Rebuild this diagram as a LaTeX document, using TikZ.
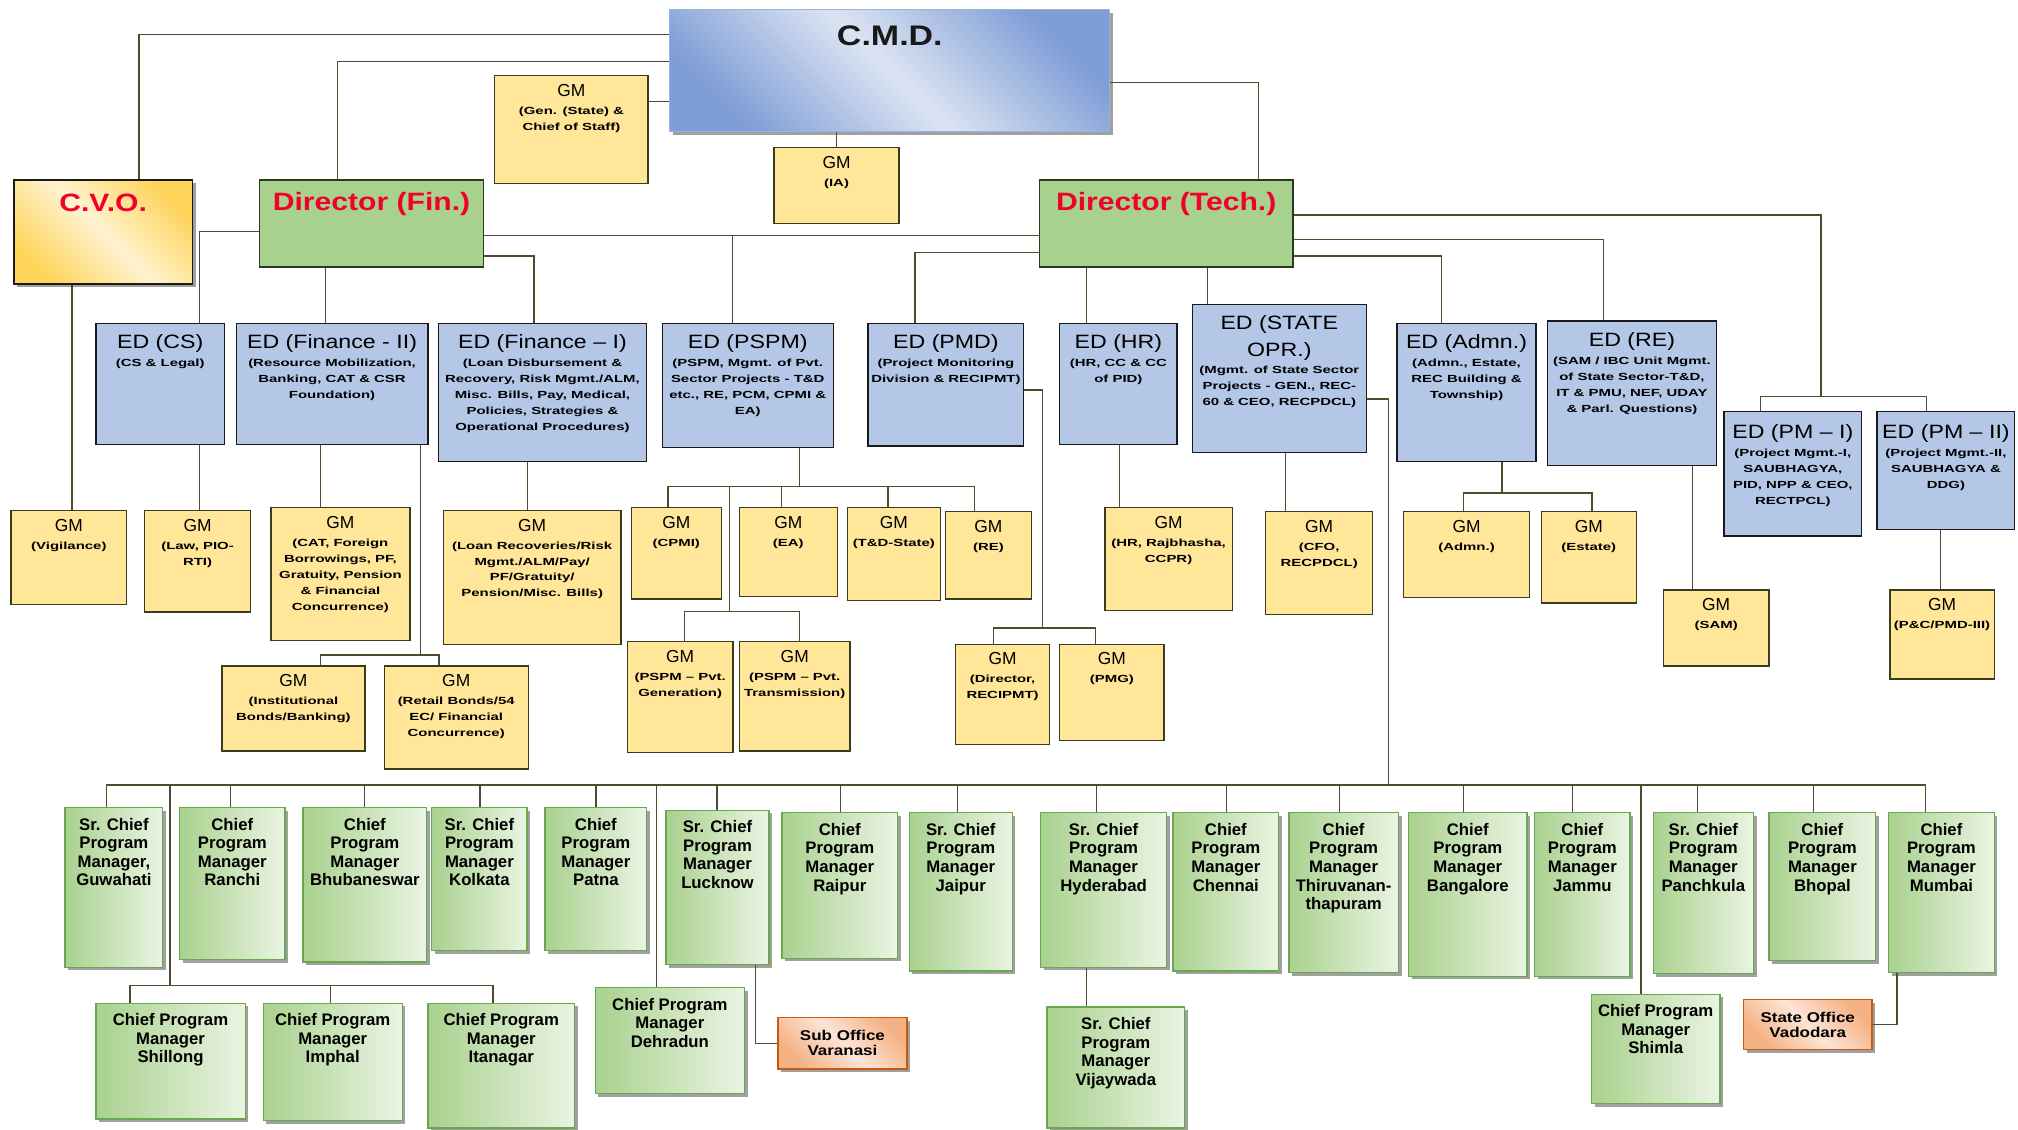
\documentclass[tikz,border=0pt]{standalone}
\usepackage{fontspec}
\setmainfont{Liberation Sans}
\newfontfamily\widefont[FakeStretch=1.2]{Liberation Sans}
\newfontfamily\subfont[FakeStretch=1.45]{Liberation Sans}
\usetikzlibrary{calc,shadows}

\definecolor{lnclr}{HTML}{4D4D2E}
\definecolor{gmfill}{HTML}{FFE699}
\definecolor{gmbd}{HTML}{3B3B1E}
\definecolor{edfill}{HTML}{B4C7E7}
\definecolor{edbd}{HTML}{1A1A1A}
\definecolor{dirfill}{HTML}{A9D18E}
\definecolor{dirbd}{HTML}{2B3A1E}
\definecolor{cmdD}{HTML}{7F9ED6}
\definecolor{cmdL}{HTML}{DCE4F3}
\definecolor{cmdbd}{HTML}{9AB3E0}
\definecolor{cvoD}{HTML}{FFD45A}
\definecolor{cvoL}{HTML}{FFF3D0}
\definecolor{cpmD}{HTML}{A9D18E}
\definecolor{cpmL}{HTML}{EAF4E3}
\definecolor{cpmbd}{HTML}{6AA84F}
\definecolor{subD}{HTML}{F4B183}
\definecolor{subL}{HTML}{FCE4D6}
\definecolor{subbd}{HTML}{C55A11}
\definecolor{titred}{HTML}{F0002C}
\definecolor{shd}{HTML}{A0A0A0}

\newcommand{\edhd}{\widefont\mdseries\fontsize{15}{12.4}\selectfont}
\newcommand{\gmhd}{\rmfamily\mdseries\fontsize{13.5}{12.4}\selectfont}

\tikzset{conn/.style={draw=lnclr, line width=1pt},
  obox/.style={anchor=north west, inner sep=0pt, line width=1pt},
  shad/.style={drop shadow={shadow xshift=2.5pt, shadow yshift=-2.5pt, fill=shd, opacity=1}},
  gm/.style={obox, draw=gmbd, fill=gmfill},
  ed/.style={obox, draw=edbd, fill=edfill},
  dir/.style={obox, draw=dirbd, fill=dirfill, line width=1.3pt},
  cmdbox/.style={obox, shad, draw=cmdbd, line width=0.8pt, top color=cmdD, bottom color=cmdD, middle color=cmdL, shading angle=-45},
  cvobox/.style={obox, shad, draw=edbd, line width=1.3pt, top color=cvoD, bottom color=cvoD, middle color=cvoL, shading angle=-45},
  cpm/.style={obox, shad, draw=cpmbd, left color=cpmD, right color=cpmL},
  subbox/.style={obox, shad, draw=subbd, line width=1.2pt, top color=subD, bottom color=subD, middle color=subL, shading angle=-45,
    align=center, font=\widefont\bfseries\fontsize{11}{11.7}\selectfont},
  gmt/.style={anchor=north, align=center, inner sep=0pt, yshift=-7pt, font=\subfont\bfseries\fontsize{8}{12.4}\selectfont},
  edt/.style={anchor=north, align=center, inner sep=0pt, yshift=-9pt, font=\subfont\bfseries\fontsize{8}{12.4}\selectfont},
  cpmt/.style={anchor=north, align=center, inner sep=0pt, yshift=-8.5pt, font=\bfseries\fontsize{13}{14.4}\selectfont},
  dirt/.style={anchor=north, inner sep=0pt, yshift=-10.5pt, text=titred, font=\widefont\bfseries\fontsize{19.5}{20}\selectfont},
  cmdt/.style={anchor=north, inner sep=0pt, yshift=-12.5pt, text=black!90, font=\widefont\bfseries\fontsize{22}{22}\selectfont}}

\begin{document}
\begin{tikzpicture}[x=1pt, y=-1pt]
  \useasboundingbox (0,0) rectangle (1568,878);
  % top level
  \node[cmdbox, minimum width=342pt, minimum height=95pt, label={[cmdt]north:C.M.D.}] (cmd) at (520,7) {};
  \node[gm, minimum width=119pt, minimum height=84pt, label={[gmt]north:{{\gmhd GM}\\[1.6pt](Gen. (State) \&\\Chief of Staff)}}] (gmgen) at (384,58) {};
  \node[gm, minimum width=97pt, minimum height=59pt, label={[gmt]north:{{\gmhd GM}\\[1.6pt](IA)}}] (gmia) at (601,114) {};
  \node[cvobox, minimum width=139pt, minimum height=81pt, label={[dirt, yshift=-1pt]north:{C.V.O.}}] (cvo) at (10,139) {};
  \node[dir, minimum width=174pt, minimum height=68pt, label={[dirt]north:{Director (Fin.)}}] (dirfin) at (201,139) {};
  \node[dir, minimum width=197pt, minimum height=68pt, label={[dirt]north:{Director (Tech.)}}] (dirtech) at (807,139) {};

  % executive directors
  \node[ed, minimum width=100pt, minimum height=94pt, label={[edt]north:{{\edhd ED (CS)}\\[1.6pt](CS \& Legal)}}] (edcs) at (74,251) {};
  \node[ed, minimum width=149pt, minimum height=94pt, label={[edt]north:{{\edhd ED (Finance - II)}\\[1.6pt](Resource Mobilization,\\Banking, CAT \& CSR\\Foundation)}}] (edfin2) at (183,251) {};
  \node[ed, minimum width=162pt, minimum height=107pt, label={[edt]north:{{\edhd ED (Finance – I)}\\[1.6pt](Loan Disbursement \&\\Recovery, Risk Mgmt./ALM,\\Misc. Bills, Pay, Medical,\\Policies, Strategies \&\\Operational Procedures)}}] (edfin1) at (340,251) {};
  \node[ed, minimum width=133pt, minimum height=96pt, label={[edt]north:{{\edhd ED (PSPM)}\\[1.6pt](PSPM, Mgmt. of Pvt.\\Sector Projects - T\&D\\etc., RE, PCM, CPMI \&\\EA)}}] (edpspm) at (514,251) {};
  \node[ed, minimum width=121pt, minimum height=95pt, label={[edt]north:{{\edhd ED (PMD)}\\[1.6pt](Project Monitoring\\Division \& RECIPMT)}}] (edpmd) at (674,251) {};
  \node[ed, minimum width=91pt, minimum height=94pt, label={[edt]north:{{\edhd ED (HR)}\\[1.6pt](HR, CC \& CC\\of PID)}}] (edhr) at (823,251) {};
  \node[ed, minimum width=135pt, minimum height=115pt, label={[edt]north:{{\edhd ED (STATE}\\[5.6pt]{\edhd OPR.)}\\[1pt](Mgmt. of State Sector\\Projects - GEN., REC-\\60 \& CEO, RECPDCL)}}] (edstate) at (926,236) {};
  \node[ed, minimum width=108pt, minimum height=107pt, label={[edt]north:{{\edhd ED (Admn.)}\\[1.6pt](Admn., Estate,\\REC Building \&\\Township)}}] (edadmn) at (1085,251) {};
  \node[ed, minimum width=131pt, minimum height=112pt, label={[edt]north:{{\edhd ED (RE)}\\[1.6pt](SAM / IBC Unit Mgmt.\\of State Sector-T\&D,\\IT \& PMU, NEF, UDAY\\\& Parl. Questions)}}] (edre) at (1202,249) {};
  \node[ed, minimum width=107pt, minimum height=97pt, label={[edt, yshift=-1.5pt]north:{{\edhd ED (PM – I)}\\[1.6pt](Project Mgmt.-I,\\SAUBHAGYA,\\PID, NPP \& CEO,\\RECTPCL)}}] (edpm1) at (1339,319) {};
  \node[ed, minimum width=107pt, minimum height=92pt, label={[edt, yshift=-1.5pt]north:{{\edhd ED (PM – II)}\\[1.6pt](Project Mgmt.-II,\\SAUBHAGYA \&\\DDG)}}] (edpm2) at (1458,319) {};

  % general managers
  \node[gm, minimum width=90pt, minimum height=73pt, label={[gmt]north:{{\gmhd GM}\\[1.6pt](Vigilance)}}] (gmvig) at (8,396) {};
  \node[gm, minimum width=82pt, minimum height=79pt, label={[gmt]north:{{\gmhd GM}\\[1.6pt](Law, PIO-\\RTI)}}] (gmlaw) at (112,396) {};
  \node[gm, minimum width=108pt, minimum height=103pt, label={[gmt]north:{{\gmhd GM}\\[1.6pt](CAT, Foreign\\Borrowings, PF,\\Gratuity, Pension\\\& Financial\\Concurrence)}}] (gmcat) at (210,394) {};
  \node[gm, minimum width=138pt, minimum height=104pt, label={[gmt]north:{{\gmhd GM}\\[1.6pt](Loan Recoveries/Risk\\Mgmt./ALM/Pay/\\PF/Gratuity/\\Pension/Misc. Bills)}}] (gmloan) at (344,396) {};
  \node[gm, minimum width=70pt, minimum height=71pt, label={[gmt]north:{{\gmhd GM}\\[1.6pt](CPMI)}}] (gmcpmi) at (490,394) {};
  \node[gm, minimum width=76pt, minimum height=69pt, label={[gmt]north:{{\gmhd GM}\\[1.6pt](EA)}}] (gmea) at (574,394) {};
  \node[gm, minimum width=72pt, minimum height=72pt, label={[gmt]north:{{\gmhd GM}\\[1.6pt](T\&D-State)}}] (gmtd) at (658,394) {};
  \node[gm, minimum width=67pt, minimum height=68pt, label={[gmt]north:{{\gmhd GM}\\[1.6pt](RE)}}] (gmre) at (734,397) {};
  \node[gm, minimum width=99pt, minimum height=80pt, label={[gmt]north:{{\gmhd GM}\\[1.6pt](HR, Rajbhasha,\\CCPR)}}] (gmhr) at (858,394) {};
  \node[gm, minimum width=83pt, minimum height=80pt, label={[gmt]north:{{\gmhd GM}\\[1.6pt](CFO,\\RECPDCL)}}] (gmcfo) at (983,397) {};
  \node[gm, minimum width=98pt, minimum height=67pt, label={[gmt]north:{{\gmhd GM}\\[1.6pt](Admn.)}}] (gmadmn) at (1090,397) {};
  \node[gm, minimum width=74pt, minimum height=71pt, label={[gmt]north:{{\gmhd GM}\\[1.6pt](Estate)}}] (gmestate) at (1197,397) {};
  \node[gm, minimum width=82pt, minimum height=59pt, label={[gmt]north:{{\gmhd GM}\\[1.6pt](SAM)}}] (gmsam) at (1292,458) {};
  \node[gm, minimum width=81pt, minimum height=69pt, label={[gmt]north:{{\gmhd GM}\\[1.6pt](P\&C/PMD-III)}}] (gmpc) at (1468,458) {};
  \node[gm, minimum width=111pt, minimum height=66pt, label={[gmt]north:{{\gmhd GM}\\[1.6pt](Institutional\\Bonds/Banking)}}] (gminst) at (172,517) {};
  \node[gm, minimum width=112pt, minimum height=80pt, label={[gmt]north:{{\gmhd GM}\\[1.6pt](Retail Bonds/54\\EC/ Financial\\Concurrence)}}] (gmretail) at (298,517) {};
  \node[gm, minimum width=82pt, minimum height=86pt, label={[gmt]north:{{\gmhd GM}\\[1.6pt](PSPM – Pvt.\\Generation)}}] (gmpvtgen) at (487,498) {};
  \node[gm, minimum width=86pt, minimum height=85pt, label={[gmt]north:{{\gmhd GM}\\[1.6pt](PSPM – Pvt.\\Transmission)}}] (gmpvttr) at (574,498) {};
  \node[gm, minimum width=73pt, minimum height=78pt, label={[gmt]north:{{\gmhd GM}\\[1.6pt](Director,\\RECIPMT)}}] (gmrecipmt) at (742,500) {};
  \node[gm, minimum width=81pt, minimum height=75pt, label={[gmt]north:{{\gmhd GM}\\[1.6pt](PMG)}}] (gmpmg) at (823,500) {};

  % regional offices
  \node[cpm, minimum width=76pt, minimum height=124pt, label={[cpmt]north:{Sr. Chief\\Program\\Manager,\\Guwahati}}] (guwahati) at (50,627) {};
  \node[cpm, minimum width=82pt, minimum height=118pt, label={[cpmt]north:{Chief\\Program\\Manager\\Ranchi}}] (ranchi) at (139,627) {};
  \node[cpm, minimum width=96pt, minimum height=120pt, label={[cpmt]north:{Chief\\Program\\Manager\\Bhubaneswar}}] (bhubaneswar) at (235,627) {};
  \node[cpm, minimum width=74pt, minimum height=111pt, label={[cpmt]north:{Sr. Chief\\Program\\Manager\\Kolkata}}] (kolkata) at (335,627) {};
  \node[cpm, minimum width=79pt, minimum height=111pt, label={[cpmt]north:{Chief\\Program\\Manager\\Patna}}] (patna) at (423,627) {};
  \node[cpm, minimum width=80pt, minimum height=120pt, label={[cpmt]north:{Sr. Chief\\Program\\Manager\\Lucknow}}] (lucknow) at (517,629) {};
  \node[cpm, minimum width=90pt, minimum height=113pt, label={[cpmt]north:{Chief\\Program\\Manager\\Raipur}}] (raipur) at (607,631) {};
  \node[cpm, minimum width=80pt, minimum height=123pt, label={[cpmt]north:{Sr. Chief\\Program\\Manager\\Jaipur}}] (jaipur) at (706,631) {};
  \node[cpm, minimum width=98pt, minimum height=120pt, label={[cpmt]north:{Sr. Chief\\Program\\Manager\\Hyderabad}}] (hyderabad) at (808,631) {};
  \node[cpm, minimum width=82pt, minimum height=123pt, label={[cpmt]north:{Chief\\Program\\Manager\\Chennai}}] (chennai) at (911,631) {};
  \node[cpm, minimum width=85pt, minimum height=124pt, label={[cpmt]north:{Chief\\Program\\Manager\\Thiruvanan-\\thapuram}}] (thiru) at (1001,631) {};
  \node[cpm, minimum width=92pt, minimum height=127pt, label={[cpmt]north:{Chief\\Program\\Manager\\Bangalore}}] (bangalore) at (1094,631) {};
  \node[cpm, minimum width=74pt, minimum height=127pt, label={[cpmt]north:{Chief\\Program\\Manager\\Jammu}}] (jammu) at (1192,631) {};
  \node[cpm, minimum width=78pt, minimum height=125pt, label={[cpmt]north:{Sr. Chief\\Program\\Manager\\Panchkula}}] (panchkula) at (1284,631) {};
  \node[cpm, minimum width=83pt, minimum height=115pt, label={[cpmt]north:{Chief\\Program\\Manager\\Bhopal}}] (bhopal) at (1374,631) {};
  \node[cpm, minimum width=82pt, minimum height=124pt, label={[cpmt]north:{Chief\\Program\\Manager\\Mumbai}}] (mumbai) at (1467,631) {};
  \node[cpm, minimum width=116pt, minimum height=90pt, label={[cpmt]north:{Chief Program\\Manager\\Shillong}}] (shillong) at (74,779) {};
  \node[cpm, minimum width=108pt, minimum height=91pt, label={[cpmt]north:{Chief Program\\Manager\\Imphal}}] (imphal) at (204,779) {};
  \node[cpm, minimum width=114pt, minimum height=97pt, label={[cpmt]north:{Chief Program\\Manager\\Itanagar}}] (itanagar) at (332,779) {};
  \node[cpm, minimum width=116pt, minimum height=82pt, label={[cpmt]north:{Chief Program\\Manager\\Dehradun}}] (dehradun) at (462,767) {};
  \node[cpm, minimum width=107pt, minimum height=94pt, label={[cpmt]north:{Sr. Chief\\Program\\Manager\\Vijaywada}}] (vijaywada) at (813,782) {};
  \node[cpm, minimum width=100pt, minimum height=85pt, label={[cpmt]north:{Chief Program\\Manager\\Shimla}}] (shimla) at (1236,772) {};
  \node[subbox, minimum width=100pt, minimum height=40pt] (varanasi) at (604,790) {Sub Office\\Varanasi};
  \node[subbox, minimum width=100pt, minimum height=39pt] (vadodara) at (1354,776) {State Office\\Vadodara};

  % CMD links
  \draw[conn] ($(cmd.north west)+(0,20)$) -| ($(cvo.north west)+(98,0)$);
  \draw[conn] ($(cmd.north west)+(0,41)$) -| ($(dirfin.north west)+(61,0)$);
  \draw[conn] ($(cmd.north west)+(0,72)$) -- ($(gmgen.north east)+(0,21)$);
  \draw[conn] (gmia.north |- cmd.south) -- (gmia.north);
  \draw[conn] ($(cmd.north east)+(0,57)$) -| ($(dirtech.north west)+(171,0)$);
  \draw[conn] ($(cvo.south west)+(46,0)$) -- ($(gmvig.north west)+(48,0)$);

  % Director (Fin.)
  \draw[conn] ($(dirfin.north west)+(0,41)$) -| ($(edcs.north west)+(81,0)$);
  \draw[conn] ($(edcs.south west)+(81,0)$) -- ($(gmlaw.north west)+(43,0)$);
  \draw[conn] ($(dirfin.south west)+(52,0)$) -- ($(edfin2.north west)+(70,0)$);
  \draw[conn] ($(dirfin.north east)+(0,60)$) -| ($(edfin1.north west)+(75,0)$);
  \draw[conn] ($(dirfin.north east)+(0,44)$) coordinate (finbus) -- (finbus -| dirtech.west);
  \draw[conn] ($(edpspm.north west)+(55,0)$) coordinate (c) -- (c |- finbus);
  \draw[conn] ($(gmcat.north west)+(39,0)$) coordinate (c) -- (c |- edfin2.south);
  \draw[conn] ($(edfin2.south east)+(-6,0)$) -- ++(0,163) coordinate (bondbus);
  \draw[conn] ($(gminst.north west)+(77,0)$) |- (bondbus) -| ($(gmretail.north west)+(43,0)$);
  \draw[conn] ($(gmloan.north west)+(66,0)$) coordinate (c) -- (c |- edfin1.south);
  \draw[conn] ($(edpspm.south west)+(107,0)$) -- ++(0,30) coordinate (pspmbus);
  \draw[conn] ($(gmcpmi.north west)+(29,0)$) |- (pspmbus) -| ($(gmre.north west)+(23,0)$);
  \draw[conn] ($(gmea.north west)+(33,0)$) coordinate (c) -- (c |- pspmbus);
  \draw[conn] ($(gmtd.north west)+(32,0)$) coordinate (c) -- (c |- pspmbus);
  \draw[conn] ($(gmpvtgen.north west)+(80,-23)$) coordinate (c) -- (c |- pspmbus);
  \draw[conn] ($(gmpvtgen.north west)+(45,0)$) |- ($(gmpvttr.north west)+(47,-23)$) -- ($(gmpvttr.north west)+(47,0)$);

  % Director (Tech.)
  \draw[conn] ($(dirtech.north west)+(0,57)$) -| ($(edpmd.north west)+(37,0)$);
  \draw[conn] ($(edpmd.north east)+(0,52)$) -| ($(gmrecipmt.north west)+(68,-12)$);
  \draw[conn] ($(gmrecipmt.north west)+(30,0)$) |- ($(gmpmg.north west)+(28,-12)$) -- ($(gmpmg.north west)+(28,0)$);
  \draw[conn] ($(edhr.north west)+(21,0)$) coordinate (c) -- (c |- dirtech.south);
  \draw[conn] ($(gmhr.north west)+(12,0)$) coordinate (c) -- (c |- edhr.south);
  \draw[conn] ($(edstate.north west)+(12,0)$) coordinate (c) -- (c |- dirtech.south);
  \draw[conn] ($(gmcfo.north west)+(16,0)$) coordinate (c) -- (c |- edstate.south);
  \draw[conn] ($(dirtech.north east)+(0,60)$) -| ($(edadmn.north west)+(35,0)$);
  \draw[conn] ($(edadmn.south west)+(82,0)$) -- ++(0,24) coordinate (admbus);
  \draw[conn] ($(gmadmn.north west)+(47,0)$) |- (admbus) -| ($(gmestate.north west)+(40,0)$);
  \draw[conn] ($(dirtech.north east)+(0,47)$) -| ($(edre.north west)+(44,0)$);
  \draw[conn] ($(gmsam.north west)+(23,0)$) coordinate (c) -- (c |- edre.south);
  \draw[conn] ($(dirtech.north east)+(0,28)$) -| ($(edpm2.north west)+(-43,-11)$);
  \draw[conn] ($(edpm1.north west)+(29,0)$) |- ($(edpm2.north west)+(39,-11)$) -- ($(edpm2.north west)+(39,0)$);
  \draw[conn] ($(gmpc.north west)+(40,0)$) coordinate (c) -- (c |- edpm2.south);

  % offices bus
  \coordinate (bus) at ($(edstate.north east)+(17,374)$);
  \draw[conn] ($(edstate.north east)+(0,74)$) -| (bus);
  \draw[conn] ($(guwahati.north west)+(33,0)$) |- (bus);
  \draw[conn] ($(mumbai.north west)+(29,0)$) |- (bus);
  \foreach \n/\dx in {ranchi/40, bhubaneswar/48, kolkata/38, patna/40, lucknow/40, raipur/46, jaipur/38,
      hyderabad/44, chennai/42, thiru/40, bangalore/43, jammu/30, panchkula/35, bhopal/35, dehradun/48, shimla/39}
    \draw[conn] ($(\n.north west)+(\dx,0)$) coordinate (drop) -- (drop |- bus);
  \draw[conn] ($(shillong.north west)+(58,-13)$) coordinate (c) -- (c |- bus);
  \draw[conn] ($(shillong.north west)+(27,0)$) |- ($(itanagar.north west)+(51,-13)$) -- ($(itanagar.north west)+(51,0)$);
  \draw[conn] ($(imphal.north west)+(53,0)$) -- ++(0,-13);
  \draw[conn] ($(lucknow.south west)+(70,0)$) |- (varanasi.west);
  \draw[conn] ($(vijaywada.north west)+(31,0)$) coordinate (c) -- (c |- hyderabad.south);
  \draw[conn] ($(mumbai.south west)+(7,0)$) |- (vadodara.east);
\end{tikzpicture}
\end{document}
